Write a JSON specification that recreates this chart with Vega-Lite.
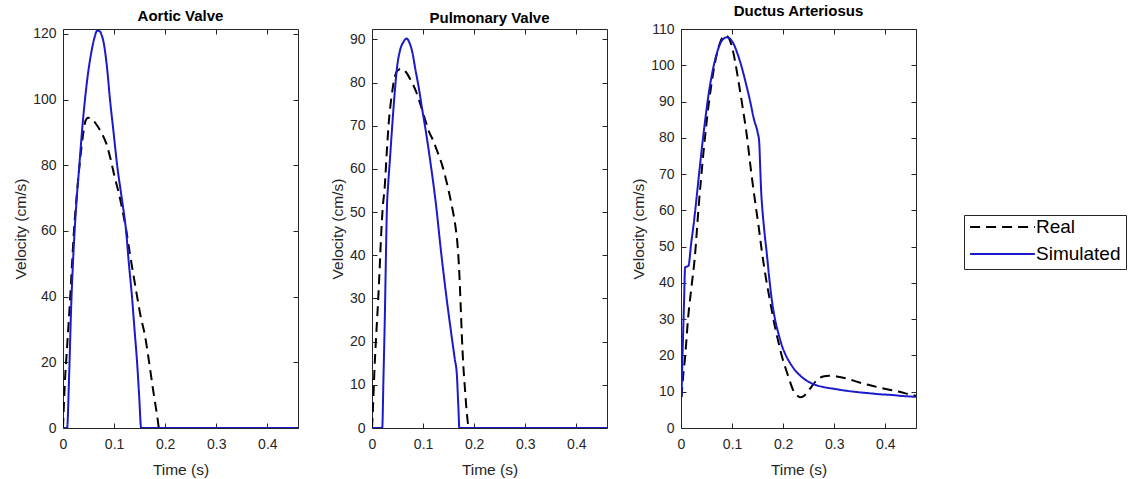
{
  "$schema": "https://vega.github.io/schema/vega-lite/v6.json",
  "background": "white",
  "padding": {"left": 13, "top": 3, "right": 5, "bottom": 5},
  "spacing": 74,
  "bounds": "flush",
  "config": {
    "font": "Liberation Sans",
    "view": {"stroke": "#262626", "strokeWidth": 1},
    "axis": {"domain": false, "grid": false, "tickSize": -5, "tickColor": "#262626", "tickWidth": 1, "labelFlush": false,
      "labelFont": "Liberation Sans", "labelFontSize": 14, "labelColor": "#262626", "labelPadding": 12,
      "titleFont": "Liberation Sans", "titleFontSize": 15.5, "titleFontWeight": "normal", "titleColor": "#262626", "titlePadding": 4},
    "axisX": {"labelPadding": 14, "titlePadding": 11, "format": "~g"},
    "axisY": {"format": "d"},
    "title": {"font": "Liberation Sans", "fontSize": 15, "fontWeight": "bold", "color": "#000000", "offset": 3},
    "legend": {"orient": "none", "legendX": 901, "legendY": 186, "title": null, "strokeColor": "#262626", "fillColor": "white",
      "padding": 5, "symbolType": "stroke", "symbolSize": 4200, "symbolStrokeWidth": 2, "labelFont": "Liberation Sans",
      "labelFontSize": 19, "labelColor": "#000000", "labelOffset": 0, "rowPadding": 8, "clipHeight": 14}
  },
  "datasets": {
    "d": [
      {"p":"A","s":"Real","t":0,"v":0},{"p":"A","s":"Real","t":0.002,"v":8},{"p":"A","s":"Real","t":0.004,"v":15},{"p":"A","s":"Real","t":0.006,"v":20},{"p":"A","s":"Real","t":0.009,"v":27},{"p":"A","s":"Real","t":0.013,"v":37},{"p":"A","s":"Real","t":0.017,"v":48},{"p":"A","s":"Real","t":0.021,"v":59},{"p":"A","s":"Real","t":0.027,"v":71},{"p":"A","s":"Real","t":0.033,"v":81},{"p":"A","s":"Real","t":0.039,"v":89},{"p":"A","s":"Real","t":0.044,"v":93.5},{"p":"A","s":"Real","t":0.049,"v":94.5},{"p":"A","s":"Real","t":0.055,"v":94.2},{"p":"A","s":"Real","t":0.065,"v":92.5},{"p":"A","s":"Real","t":0.075,"v":90},{"p":"A","s":"Real","t":0.085,"v":86.5},{"p":"A","s":"Real","t":0.093,"v":82},{"p":"A","s":"Real","t":0.101,"v":76.5},{"p":"A","s":"Real","t":0.110,"v":71},{"p":"A","s":"Real","t":0.118,"v":65},{"p":"A","s":"Real","t":0.124,"v":60},{"p":"A","s":"Real","t":0.131,"v":53},{"p":"A","s":"Real","t":0.138,"v":46.5},{"p":"A","s":"Real","t":0.144,"v":41},{"p":"A","s":"Real","t":0.152,"v":34},{"p":"A","s":"Real","t":0.160,"v":28.5},{"p":"A","s":"Real","t":0.170,"v":18.5},{"p":"A","s":"Real","t":0.176,"v":12},{"p":"A","s":"Real","t":0.180,"v":8},{"p":"A","s":"Real","t":0.185,"v":3},{"p":"A","s":"Real","t":0.188,"v":0},{"p":"A","s":"Real","t":0.46,"v":0},
      {"p":"A","s":"Simulated","t":0,"v":0},{"p":"A","s":"Simulated","t":0.008,"v":0},{"p":"A","s":"Simulated","t":0.012,"v":16},{"p":"A","s":"Simulated","t":0.016,"v":37},{"p":"A","s":"Simulated","t":0.021,"v":55},{"p":"A","s":"Simulated","t":0.026,"v":68},{"p":"A","s":"Simulated","t":0.032,"v":80},{"p":"A","s":"Simulated","t":0.037,"v":90},{"p":"A","s":"Simulated","t":0.043,"v":100},{"p":"A","s":"Simulated","t":0.049,"v":108},{"p":"A","s":"Simulated","t":0.055,"v":114},{"p":"A","s":"Simulated","t":0.061,"v":118.5},{"p":"A","s":"Simulated","t":0.067,"v":121},{"p":"A","s":"Simulated","t":0.072,"v":120.8},{"p":"A","s":"Simulated","t":0.076,"v":119.5},{"p":"A","s":"Simulated","t":0.080,"v":117},{"p":"A","s":"Simulated","t":0.086,"v":110},{"p":"A","s":"Simulated","t":0.092,"v":100},{"p":"A","s":"Simulated","t":0.099,"v":90},{"p":"A","s":"Simulated","t":0.106,"v":80},{"p":"A","s":"Simulated","t":0.115,"v":70},{"p":"A","s":"Simulated","t":0.1235,"v":60},{"p":"A","s":"Simulated","t":0.129,"v":50},{"p":"A","s":"Simulated","t":0.135,"v":40},{"p":"A","s":"Simulated","t":0.140,"v":30},{"p":"A","s":"Simulated","t":0.145,"v":20},{"p":"A","s":"Simulated","t":0.149,"v":10},{"p":"A","s":"Simulated","t":0.153,"v":0},{"p":"A","s":"Simulated","t":0.46,"v":0},
      {"p":"B","s":"Real","t":0,"v":0},{"p":"B","s":"Real","t":0.002,"v":5},{"p":"B","s":"Real","t":0.005,"v":14},{"p":"B","s":"Real","t":0.008,"v":21},{"p":"B","s":"Real","t":0.012,"v":29.5},{"p":"B","s":"Real","t":0.015,"v":37},{"p":"B","s":"Real","t":0.018,"v":45},{"p":"B","s":"Real","t":0.021,"v":51},{"p":"B","s":"Real","t":0.025,"v":56},{"p":"B","s":"Real","t":0.029,"v":64},{"p":"B","s":"Real","t":0.033,"v":71},{"p":"B","s":"Real","t":0.038,"v":76.5},{"p":"B","s":"Real","t":0.044,"v":81},{"p":"B","s":"Real","t":0.050,"v":82.8},{"p":"B","s":"Real","t":0.058,"v":83.2},{"p":"B","s":"Real","t":0.066,"v":82.5},{"p":"B","s":"Real","t":0.076,"v":80.5},{"p":"B","s":"Real","t":0.086,"v":78},{"p":"B","s":"Real","t":0.096,"v":74.5},{"p":"B","s":"Real","t":0.105,"v":71},{"p":"B","s":"Real","t":0.112,"v":68.5},{"p":"B","s":"Real","t":0.118,"v":67},{"p":"B","s":"Real","t":0.128,"v":64},{"p":"B","s":"Real","t":0.137,"v":61},{"p":"B","s":"Real","t":0.147,"v":56.5},{"p":"B","s":"Real","t":0.157,"v":51},{"p":"B","s":"Real","t":0.163,"v":47},{"p":"B","s":"Real","t":0.167,"v":43},{"p":"B","s":"Real","t":0.170,"v":38},{"p":"B","s":"Real","t":0.172,"v":33},{"p":"B","s":"Real","t":0.174,"v":27},{"p":"B","s":"Real","t":0.176,"v":21},{"p":"B","s":"Real","t":0.179,"v":14},{"p":"B","s":"Real","t":0.182,"v":9},{"p":"B","s":"Real","t":0.186,"v":3},{"p":"B","s":"Real","t":0.190,"v":0},{"p":"B","s":"Real","t":0.46,"v":0},
      {"p":"B","s":"Simulated","t":0,"v":0},{"p":"B","s":"Simulated","t":0.020,"v":0},{"p":"B","s":"Simulated","t":0.0225,"v":12},{"p":"B","s":"Simulated","t":0.025,"v":25},{"p":"B","s":"Simulated","t":0.027,"v":38},{"p":"B","s":"Simulated","t":0.029,"v":50},{"p":"B","s":"Simulated","t":0.032,"v":57},{"p":"B","s":"Simulated","t":0.035,"v":62},{"p":"B","s":"Simulated","t":0.039,"v":69},{"p":"B","s":"Simulated","t":0.044,"v":77},{"p":"B","s":"Simulated","t":0.049,"v":83.5},{"p":"B","s":"Simulated","t":0.055,"v":87.5},{"p":"B","s":"Simulated","t":0.062,"v":89.5},{"p":"B","s":"Simulated","t":0.068,"v":90.2},{"p":"B","s":"Simulated","t":0.073,"v":89.3},{"p":"B","s":"Simulated","t":0.079,"v":87},{"p":"B","s":"Simulated","t":0.085,"v":83},{"p":"B","s":"Simulated","t":0.092,"v":78.5},{"p":"B","s":"Simulated","t":0.098,"v":74},{"p":"B","s":"Simulated","t":0.105,"v":69},{"p":"B","s":"Simulated","t":0.115,"v":61},{"p":"B","s":"Simulated","t":0.125,"v":52},{"p":"B","s":"Simulated","t":0.135,"v":41},{"p":"B","s":"Simulated","t":0.145,"v":31},{"p":"B","s":"Simulated","t":0.155,"v":22},{"p":"B","s":"Simulated","t":0.162,"v":16},{"p":"B","s":"Simulated","t":0.166,"v":12.5},{"p":"B","s":"Simulated","t":0.169,"v":5},{"p":"B","s":"Simulated","t":0.171,"v":0},{"p":"B","s":"Simulated","t":0.46,"v":0},
      {"p":"C","s":"Real","t":0.001,"v":8.5},{"p":"C","s":"Real","t":0.004,"v":14},{"p":"C","s":"Real","t":0.008,"v":19.5},{"p":"C","s":"Real","t":0.014,"v":30.5},{"p":"C","s":"Real","t":0.021,"v":39.5},{"p":"C","s":"Real","t":0.027,"v":47},{"p":"C","s":"Real","t":0.034,"v":60},{"p":"C","s":"Real","t":0.044,"v":76},{"p":"C","s":"Real","t":0.054,"v":89},{"p":"C","s":"Real","t":0.062,"v":97},{"p":"C","s":"Real","t":0.070,"v":103},{"p":"C","s":"Real","t":0.078,"v":106.8},{"p":"C","s":"Real","t":0.086,"v":108.2},{"p":"C","s":"Real","t":0.092,"v":107.8},{"p":"C","s":"Real","t":0.099,"v":105.5},{"p":"C","s":"Real","t":0.106,"v":101},{"p":"C","s":"Real","t":0.112,"v":96},{"p":"C","s":"Real","t":0.120,"v":89},{"p":"C","s":"Real","t":0.129,"v":80.5},{"p":"C","s":"Real","t":0.137,"v":71},{"p":"C","s":"Real","t":0.145,"v":62.5},{"p":"C","s":"Real","t":0.152,"v":55.5},{"p":"C","s":"Real","t":0.158,"v":49},{"p":"C","s":"Real","t":0.166,"v":41.5},{"p":"C","s":"Real","t":0.175,"v":34.5},{"p":"C","s":"Real","t":0.183,"v":28.5},{"p":"C","s":"Real","t":0.191,"v":23.5},{"p":"C","s":"Real","t":0.199,"v":19},{"p":"C","s":"Real","t":0.207,"v":15.5},{"p":"C","s":"Real","t":0.214,"v":12.5},{"p":"C","s":"Real","t":0.220,"v":10.3},{"p":"C","s":"Real","t":0.227,"v":9},{"p":"C","s":"Real","t":0.233,"v":8.5},{"p":"C","s":"Real","t":0.240,"v":8.8},{"p":"C","s":"Real","t":0.246,"v":9.6},{"p":"C","s":"Real","t":0.256,"v":11.5},{"p":"C","s":"Real","t":0.266,"v":13.2},{"p":"C","s":"Real","t":0.278,"v":14.2},{"p":"C","s":"Real","t":0.290,"v":14.4},{"p":"C","s":"Real","t":0.305,"v":14.2},{"p":"C","s":"Real","t":0.325,"v":13.6},{"p":"C","s":"Real","t":0.348,"v":12.6},{"p":"C","s":"Real","t":0.370,"v":11.8},{"p":"C","s":"Real","t":0.390,"v":11.1},{"p":"C","s":"Real","t":0.410,"v":10.5},{"p":"C","s":"Real","t":0.430,"v":9.9},{"p":"C","s":"Real","t":0.446,"v":9.3},{"p":"C","s":"Real","t":0.460,"v":8.9},
      {"p":"C","s":"Simulated","t":0.001,"v":8.6},{"p":"C","s":"Simulated","t":0.003,"v":20},{"p":"C","s":"Simulated","t":0.006,"v":35},{"p":"C","s":"Simulated","t":0.008,"v":44.3},{"p":"C","s":"Simulated","t":0.0145,"v":44.7},{"p":"C","s":"Simulated","t":0.020,"v":51},{"p":"C","s":"Simulated","t":0.024,"v":55.3},{"p":"C","s":"Simulated","t":0.029,"v":61.5},{"p":"C","s":"Simulated","t":0.034,"v":68.2},{"p":"C","s":"Simulated","t":0.044,"v":81},{"p":"C","s":"Simulated","t":0.054,"v":92},{"p":"C","s":"Simulated","t":0.062,"v":98.5},{"p":"C","s":"Simulated","t":0.070,"v":103.2},{"p":"C","s":"Simulated","t":0.080,"v":106.8},{"p":"C","s":"Simulated","t":0.0895,"v":107.7},{"p":"C","s":"Simulated","t":0.096,"v":107.3},{"p":"C","s":"Simulated","t":0.103,"v":105.9},{"p":"C","s":"Simulated","t":0.111,"v":103},{"p":"C","s":"Simulated","t":0.119,"v":99.4},{"p":"C","s":"Simulated","t":0.127,"v":95},{"p":"C","s":"Simulated","t":0.135,"v":90.3},{"p":"C","s":"Simulated","t":0.143,"v":85},{"p":"C","s":"Simulated","t":0.150,"v":81.5},{"p":"C","s":"Simulated","t":0.153,"v":79},{"p":"C","s":"Simulated","t":0.155,"v":72},{"p":"C","s":"Simulated","t":0.157,"v":65},{"p":"C","s":"Simulated","t":0.159,"v":60.8},{"p":"C","s":"Simulated","t":0.163,"v":54.5},{"p":"C","s":"Simulated","t":0.168,"v":48},{"p":"C","s":"Simulated","t":0.173,"v":41},{"p":"C","s":"Simulated","t":0.178,"v":35.1},{"p":"C","s":"Simulated","t":0.184,"v":30},{"p":"C","s":"Simulated","t":0.191,"v":25.9},{"p":"C","s":"Simulated","t":0.198,"v":22.5},{"p":"C","s":"Simulated","t":0.204,"v":20.4},{"p":"C","s":"Simulated","t":0.214,"v":17.8},{"p":"C","s":"Simulated","t":0.224,"v":15.8},{"p":"C","s":"Simulated","t":0.237,"v":14},{"p":"C","s":"Simulated","t":0.250,"v":12.7},{"p":"C","s":"Simulated","t":0.265,"v":11.8},{"p":"C","s":"Simulated","t":0.282,"v":11.2},{"p":"C","s":"Simulated","t":0.300,"v":10.8},{"p":"C","s":"Simulated","t":0.322,"v":10.3},{"p":"C","s":"Simulated","t":0.345,"v":9.9},{"p":"C","s":"Simulated","t":0.367,"v":9.6},{"p":"C","s":"Simulated","t":0.390,"v":9.3},{"p":"C","s":"Simulated","t":0.413,"v":9.1},{"p":"C","s":"Simulated","t":0.436,"v":8.8},{"p":"C","s":"Simulated","t":0.460,"v":8.6}
    ]
  },
  "hconcat": [
    {
      "width": 235, "height": 399,
      "title": "Aortic Valve",
      "data": {"name": "d"},
      "transform": [{"filter": "datum.p === 'A'"}],
      "layer": [
        {"mark": {"type": "line", "strokeWidth": 2, "clip": true, "interpolate": "monotone"},
         "encoding": {
           "x": {"field": "t", "type": "quantitative", "scale": {"domain": [0, 0.46], "nice": false, "zero": false}, "axis": {"orient": "bottom", "values": [0, 0.1, 0.2, 0.3, 0.4], "title": "Time (s)"}},
           "y": {"field": "v", "type": "quantitative", "scale": {"domain": [0, 121.5], "nice": false}, "axis": {"orient": "left", "values": [0, 20, 40, 60, 80, 100, 120], "title": "Velocity (cm/s)"}},
           "color": {"field": "s", "type": "nominal", "scale": {"domain": ["Real", "Simulated"], "range": ["#000000", "#1a1acc"]}},
           "strokeDash": {"field": "s", "type": "nominal", "scale": {"domain": ["Real", "Simulated"], "range": [[10, 6], [1, 0]]},
             "legend": {"encode": {"symbols": {"update": {"strokeDash": {"signal": "datum.value === 'Real' ? [15, 8] : [1, 0]"}}}}}}
         }},
        {"mark": {"type": "line", "opacity": 0},
         "encoding": {
           "x": {"field": "t", "type": "quantitative", "axis": {"orient": "top", "values": [0, 0.1, 0.2, 0.3, 0.4], "labels": false, "title": null}},
           "y": {"field": "v", "type": "quantitative", "axis": {"orient": "right", "values": [0, 20, 40, 60, 80, 100, 120], "labels": false, "title": null}},
           "detail": {"field": "s", "type": "nominal"}
         }}
      ],
      "resolve": {"axis": {"x": "independent", "y": "independent"}}
    },
    {
      "width": 235, "height": 399,
      "title": "Pulmonary Valve",
      "data": {"name": "d"},
      "transform": [{"filter": "datum.p === 'B'"}],
      "layer": [
        {"mark": {"type": "line", "strokeWidth": 2, "clip": true, "interpolate": "monotone"},
         "encoding": {
           "x": {"field": "t", "type": "quantitative", "scale": {"domain": [0, 0.46], "nice": false, "zero": false}, "axis": {"orient": "bottom", "values": [0, 0.1, 0.2, 0.3, 0.4], "title": "Time (s)"}},
           "y": {"field": "v", "type": "quantitative", "scale": {"domain": [0, 92.4], "nice": false}, "axis": {"orient": "left", "values": [0, 10, 20, 30, 40, 50, 60, 70, 80, 90], "title": "Velocity (cm/s)"}},
           "color": {"field": "s", "type": "nominal", "scale": {"domain": ["Real", "Simulated"], "range": ["#000000", "#1a1acc"]}},
           "strokeDash": {"field": "s", "type": "nominal", "scale": {"domain": ["Real", "Simulated"], "range": [[10, 6], [1, 0]]}}
         }},
        {"mark": {"type": "line", "opacity": 0},
         "encoding": {
           "x": {"field": "t", "type": "quantitative", "axis": {"orient": "top", "values": [0, 0.1, 0.2, 0.3, 0.4], "labels": false, "title": null}},
           "y": {"field": "v", "type": "quantitative", "axis": {"orient": "right", "values": [0, 10, 20, 30, 40, 50, 60, 70, 80, 90], "labels": false, "title": null}},
           "detail": {"field": "s", "type": "nominal"}
         }}
      ],
      "resolve": {"axis": {"x": "independent", "y": "independent"}}
    },
    {
      "width": 235, "height": 399,
      "title": "Ductus Arteriosus",
      "data": {"name": "d"},
      "transform": [{"filter": "datum.p === 'C'"}],
      "layer": [
        {"mark": {"type": "line", "strokeWidth": 2, "clip": true, "interpolate": "monotone"},
         "encoding": {
           "x": {"field": "t", "type": "quantitative", "scale": {"domain": [0, 0.46], "nice": false, "zero": false}, "axis": {"orient": "bottom", "values": [0, 0.1, 0.2, 0.3, 0.4], "title": "Time (s)"}},
           "y": {"field": "v", "type": "quantitative", "scale": {"domain": [0, 110], "nice": false}, "axis": {"orient": "left", "values": [0, 10, 20, 30, 40, 50, 60, 70, 80, 90, 100, 110], "title": "Velocity (cm/s)"}},
           "color": {"field": "s", "type": "nominal", "scale": {"domain": ["Real", "Simulated"], "range": ["#000000", "#1a1acc"]}},
           "strokeDash": {"field": "s", "type": "nominal", "scale": {"domain": ["Real", "Simulated"], "range": [[10, 6], [1, 0]]}}
         }},
        {"mark": {"type": "line", "opacity": 0},
         "encoding": {
           "x": {"field": "t", "type": "quantitative", "axis": {"orient": "top", "values": [0, 0.1, 0.2, 0.3, 0.4], "labels": false, "title": null}},
           "y": {"field": "v", "type": "quantitative", "axis": {"orient": "right", "values": [0, 10, 20, 30, 40, 50, 60, 70, 80, 90, 100, 110], "labels": false, "title": null}},
           "detail": {"field": "s", "type": "nominal"}
         }}
      ],
      "resolve": {"axis": {"x": "independent", "y": "independent"}}
    }
  ]
}
